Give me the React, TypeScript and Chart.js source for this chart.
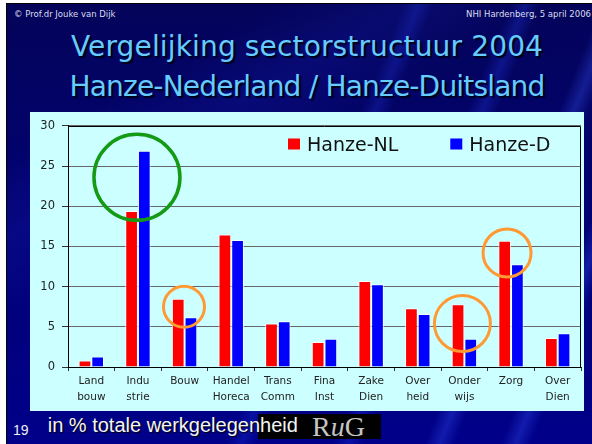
import React, { useEffect, useRef } from 'react';
import { Chart, registerables } from 'chart.js';

Chart.register(...registerables);

// ---------- data ----------
const categories: string[][] = [
  ['Land', 'bouw'],
  ['Indu', 'strie'],
  ['Bouw'],
  ['Handel', 'Horeca'],
  ['Trans', 'Comm'],
  ['Fina', 'Inst'],
  ['Zake', 'Dien'],
  ['Over', 'heid'],
  ['Onder', 'wijs'],
  ['Zorg'],
  ['Over', 'Dien'],
];
const seriesNames = ['Hanze-NL', 'Hanze-D'];
const hanzeNL = [0.8, 19.4, 8.5, 16.5, 5.4, 3.1, 10.7, 7.3, 7.8, 15.7, 3.6];
const hanzeD = [1.3, 26.9, 6.2, 15.8, 5.7, 3.5, 10.3, 6.6, 3.5, 12.8, 4.2];
const yTicks = [0, 5, 10, 15, 20, 25, 30];

// highlighted groups (circle annotations), in data terms
const highlightCategory = [1, 2, 8, 9];
const highlightValue = [23.6, 7.5, 5.4, 14.2];

// ---------- styles ----------
const highlightStyle = [
  { color: '#149a14', radius: 43, dx: -1, width: 3.5 },
  { color: '#ff9933', radius: 20.5, dx: -0.6, width: 3 },
  { color: '#ff9933', radius: 28, dx: -2, width: 3 },
  { color: '#ff9933', radius: 24, dx: -4, width: 3 },
];
const seriesColors = ['#ff0000', '#0000ff'];
const CHART_FONT = "'DejaVu Sans', Verdana, sans-serif";

const circlesPlugin = {
  id: 'circles',
  afterDatasetsDraw(chart: any) {
    const { ctx, scales } = chart;
    ctx.save();
    highlightCategory.forEach((cat, i) => {
      const st = highlightStyle[i];
      const x = scales.x.getPixelForValue(cat) + st.dx;
      const y = scales.y.getPixelForValue(highlightValue[i]);
      ctx.beginPath();
      ctx.arc(x, y, st.radius, 0, Math.PI * 2);
      ctx.strokeStyle = st.color;
      ctx.lineWidth = st.width;
      ctx.stroke();
    });
    ctx.restore();
  },
};

const borderPlugin = {
  id: 'plotBorder',
  afterDraw(chart: any) {
    const { ctx, chartArea } = chart;
    const l = Math.round(chartArea.left) + 0.5;
    const r = Math.round(chartArea.right) - 0.5;
    const t = Math.round(chartArea.top) + 0.5;
    const b = Math.round(chartArea.bottom) + 0.5;
    ctx.save();
    ctx.strokeStyle = '#000';
    ctx.lineWidth = 1;
    ctx.beginPath();
    ctx.moveTo(l, b);
    ctx.lineTo(l, t);
    ctx.lineTo(r, t);
    ctx.lineTo(r, b);
    ctx.stroke();
    ctx.restore();
  },
};

const legendPlugin = {
  id: 'insideLegend',
  afterDraw(chart: any) {
    const { ctx } = chart;
    ctx.save();
    ctx.font = `19px ${CHART_FONT}`;
    ctx.textBaseline = 'alphabetic';
    ctx.textAlign = 'left';
    let x = 258;
    const boxTop = 26.5;
    const baseline = 38.7;
    chart.data.datasets.forEach((ds: any) => {
      ctx.fillStyle = ds.backgroundColor;
      ctx.fillRect(x, boxTop, 12, 11);
      ctx.fillStyle = '#111';
      ctx.fillText(ds.label, x + 19, baseline);
      const w = ctx.measureText(ds.label).width;
      x += 19 + w + 52;
    });
    ctx.restore();
  },
};

export default function App() {
  const canvasRef = useRef<HTMLCanvasElement>(null);

  useEffect(() => {
    document.body.style.margin = '0';
    const canvas = canvasRef.current;
    if (!canvas) return;
    const chart = new Chart(canvas, {
      type: 'bar',
      data: {
        labels: categories,
        datasets: [
          {
            label: seriesNames[0],
            data: hanzeNL,
            backgroundColor: seriesColors[0],
            borderColor: 'rgba(255,255,255,0.85)',
            borderWidth: 1,
            barPercentage: 1,
            categoryPercentage: 0.545,
          },
          {
            label: seriesNames[1],
            data: hanzeD,
            backgroundColor: seriesColors[1],
            borderColor: 'rgba(255,255,255,0.85)',
            borderWidth: 1,
            barPercentage: 1,
            categoryPercentage: 0.545,
          },
        ],
      },
      options: {
        responsive: false,
        animation: false,
        devicePixelRatio: 1,
        layout: { padding: { top: 11, right: 3, left: 0, bottom: 0 } },
        plugins: {
          legend: { display: false },
          title: { display: false },
          tooltip: { enabled: false },
        },
        scales: {
          x: {
            grid: {
              display: true,
              drawOnChartArea: false,
              drawTicks: true,
              tickLength: 4,
              color: '#333',
              offset: true,
            },
            border: { color: '#000', width: 1 },
            ticks: {
              color: '#222',
              padding: 2,
              maxRotation: 0,
              autoSkip: false,
              font: { family: CHART_FONT, size: 10.5, lineHeight: 1.52 },
            },
            afterFit(scale: any) {
              scale.height = 44;
            },
          },
          y: {
            min: yTicks[0],
            max: yTicks[yTicks.length - 1],
            afterBuildTicks(scale: any) {
              scale.ticks = yTicks.map((v) => ({ value: v }));
            },
            grid: {
              color: '#666',
              tickLength: 6,
              tickColor: '#333',
            },
            border: { color: '#000', width: 1 },
            ticks: {
              color: '#222',
              padding: 7,
              font: { family: CHART_FONT, size: 11.5 },
            },
            afterFit(scale: any) {
              scale.width = 38;
            },
          },
        },
      },
      plugins: [circlesPlugin, borderPlugin, legendPlugin],
    });
    return () => chart.destroy();
  }, []);

  const slideBg =
    'linear-gradient(112deg, rgba(0,0,0,0) 52%, rgba(40,70,255,0.22) 54%, rgba(0,0,0,0) 56%, rgba(0,0,0,0) 66%, rgba(40,70,255,0.25) 68%, rgba(0,0,0,0) 70%, rgba(0,0,0,0) 78%, rgba(60,90,255,0.3) 80%, rgba(0,0,0,0) 82%, rgba(0,0,0,0) 88%, rgba(60,90,255,0.3) 90%, rgba(0,0,0,0) 92%),' +
    'linear-gradient(150deg, rgba(0,0,0,0) 20%, rgba(30,40,200,0.18) 30%, rgba(0,0,0,0) 40%),' +
    'linear-gradient(180deg, #04045a 0%, #020272 45%, #00008a 100%)';

  const titleStyle: React.CSSProperties = {
    position: 'absolute',
    left: 0,
    width: 614,
    textAlign: 'center',
    fontFamily: "'DejaVu Sans', Verdana, sans-serif",
    fontSize: 28,
    lineHeight: '39.5px',
    color: '#66ccff',
    textShadow: '2px 2px 1px #000018',
    whiteSpace: 'nowrap',
  };

  return (
    <div
      style={{
        position: 'absolute',
        left: 0,
        top: 0,
        width: 592,
        height: 444,
        overflow: 'hidden',
        background: '#ffffff',
      }}
    >
      <div
        style={{
          position: 'absolute',
          left: 6,
          top: 3,
          width: 586,
          height: 441,
          background: slideBg,
          borderLeft: '1.5px solid #000',
          borderTop: '1px solid #000',
          boxSizing: 'border-box',
        }}
      />
      <div
        style={{
          position: 'absolute',
          left: 14,
          top: 10.3,
          fontFamily: "'DejaVu Sans', Verdana, sans-serif",
          fontSize: 8.5,
          lineHeight: '8.5px',
          color: '#dcdcec',
          whiteSpace: 'nowrap',
        }}
      >
        © Prof.dr Jouke van Dijk
      </div>
      <div
        style={{
          position: 'absolute',
          right: 1,
          top: 10.3,
          fontFamily: "'DejaVu Sans', Verdana, sans-serif",
          fontSize: 8.5,
          lineHeight: '8.5px',
          color: '#dcdcec',
          whiteSpace: 'nowrap',
        }}
      >
        NHI Hardenberg, 5 april 2006
      </div>
      <div style={{ ...titleStyle, top: 27.3, letterSpacing: '0.15px' }}>
        Vergelijking sectorstructuur 2004
      </div>
      <div style={{ ...titleStyle, top: 66.8, letterSpacing: '-0.8px' }}>
        Hanze-Nederland / Hanze-Duitsland
      </div>
      <div
        style={{
          position: 'absolute',
          left: 30,
          top: 112,
          width: 554,
          height: 299,
          background: '#ccffff',
        }}
      />
      <canvas
        ref={canvasRef}
        width={554}
        height={299}
        style={{ position: 'absolute', left: 30, top: 112, width: 554, height: 299 }}
      />
      <div
        style={{
          position: 'absolute',
          left: 258,
          top: 414,
          width: 123,
          height: 25,
          background: '#000',
        }}
      />
      <div
        style={{
          position: 'absolute',
          left: 312,
          top: 412.5,
          fontFamily: "'Liberation Serif', 'DejaVu Serif', serif",
          fontSize: 28,
          lineHeight: '28px',
          color: '#c4c4c4',
          whiteSpace: 'nowrap',
        }}
      >
        R<i>u</i>G
      </div>
      <div
        style={{
          position: 'absolute',
          left: 13,
          top: 423,
          fontFamily: "'Liberation Sans', Arial, sans-serif",
          fontSize: 14,
          lineHeight: '14px',
          color: '#f0f0f0',
          whiteSpace: 'nowrap',
        }}
      >
        19
      </div>
      <div
        style={{
          position: 'absolute',
          left: 47.7,
          top: 414.8,
          fontFamily: "'Liberation Sans', Arial, sans-serif",
          fontSize: 20,
          lineHeight: '20px',
          color: '#f4f4f4',
          textShadow: '1px 1px 1px #000',
          whiteSpace: 'nowrap',
        }}
      >
        in % totale werkgelegenheid
      </div>
    </div>
  );
}
